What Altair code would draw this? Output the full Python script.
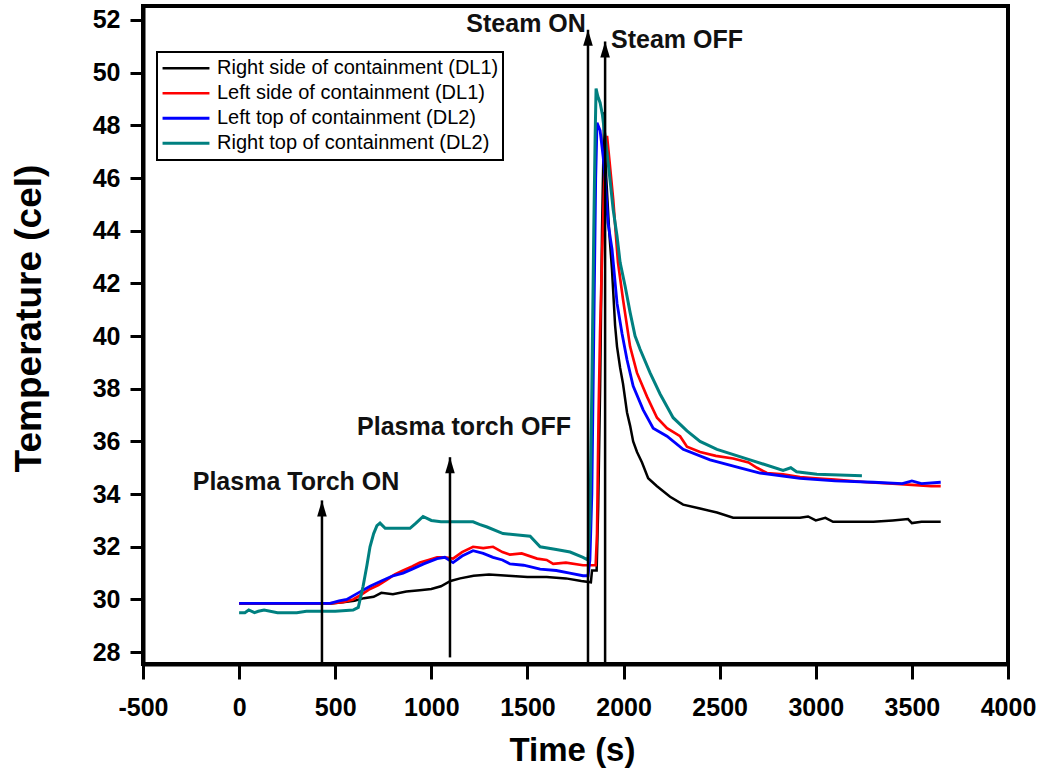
import altair as alt
import pandas as pd

# ---------------- data ----------------
series_names = [
    "Right side of containment (DL1)",
    "Left side of containment (DL1)",
    "Left top of containment (DL2)",
    "Right top of containment (DL2)",
]
series_colors = ["#000000", "#ff0000", "#0000ff", "#008080"]
series_widths = [2.5, 3, 2, 3]

black_t = [0, 100, 200, 300, 400, 480, 550, 600, 650, 700, 740, 800, 870, 940, 1000, 1050, 1100,
           1150, 1220, 1300, 1400, 1500, 1600, 1700, 1780, 1830, 1836, 1860, 1868, 1878, 1888, 1899,
           1910, 1925, 1940, 1956, 1966, 1982, 1997, 2018, 2034, 2050, 2070, 2096, 2128, 2174, 2242,
           2310, 2398, 2486, 2570, 2700, 2800, 2918, 2960, 3000, 3050, 3090, 3200, 3300, 3400, 3480,
           3500, 3550, 3650]
black_v = [29.85, 29.85, 29.85, 29.85, 29.85, 29.85, 29.9, 29.95, 30.05, 30.1, 30.25, 30.2, 30.3,
           30.35, 30.4, 30.5, 30.7, 30.8, 30.9, 30.95, 30.9, 30.85, 30.85, 30.8, 30.7, 30.65, 31.1,
           31.1, 33.5, 38.0, 44.0, 48.5, 46.0, 44.0, 42.5, 40.4, 39.6, 38.8, 38.2, 37.1, 36.6, 36.0,
           35.6, 35.2, 34.6, 34.3, 33.9, 33.6, 33.45, 33.3, 33.1, 33.1, 33.1, 33.1, 33.15, 33.0, 33.1,
           32.95, 32.95, 32.95, 33.0, 33.05, 32.9, 32.95, 32.95]

red_t = [0, 100, 200, 300, 400, 473, 540, 593, 640, 681, 725, 770, 810, 853, 900, 941, 985, 1030,
         1070, 1113, 1160, 1217, 1270, 1321, 1370, 1409, 1470, 1550, 1600, 1634, 1700, 1789, 1855,
         1862, 1870, 1878, 1888, 1898, 1907, 1914, 1930, 1946, 1971, 1997, 2034, 2070, 2122, 2174,
         2226, 2294, 2330, 2398, 2480, 2570, 2650, 2694, 2746, 2830, 2918, 3000, 3100, 3267, 3400,
         3500, 3600, 3650]
red_v = [29.85, 29.85, 29.85, 29.85, 29.85, 29.85, 29.9, 30.0, 30.2, 30.4, 30.55, 30.75, 30.95,
         31.1, 31.25, 31.4, 31.5, 31.6, 31.6, 31.55, 31.8, 32.0, 31.95, 32.0, 31.8, 31.7, 31.75,
         31.55, 31.5, 31.35, 31.4, 31.3, 31.3, 32.5, 37.0, 40.2, 43.0, 45.5, 47.2, 47.6, 46.4, 45.2,
         42.8, 41.4, 39.6, 38.6, 37.7, 36.9, 36.5, 36.2, 35.8, 35.6, 35.45, 35.35, 35.2, 35.0, 34.8,
         34.75, 34.65, 34.6, 34.55, 34.45, 34.4, 34.35, 34.3, 34.3]

blue_t = [0, 100, 200, 300, 400, 473, 520, 560, 620, 681, 740, 800, 853, 900, 960, 1030, 1070,
          1113, 1160, 1217, 1270, 1321, 1370, 1409, 1480, 1566, 1650, 1720, 1789, 1815, 1825, 1835,
          1845, 1855, 1862, 1878, 1894, 1904, 1919, 1940, 1966, 1992, 2018, 2050, 2102, 2154, 2226,
          2310, 2450, 2606, 2710, 2918, 3100, 3300, 3450, 3500, 3550, 3650]
blue_v = [29.85, 29.85, 29.85, 29.85, 29.85, 29.85, 29.95, 30.0, 30.25, 30.5, 30.7, 30.9, 31.0,
          31.15, 31.35, 31.55, 31.6, 31.4, 31.65, 31.85, 31.75, 31.6, 31.5, 31.35, 31.3, 31.15,
          31.1, 31.0, 30.9, 30.9, 31.5, 34.0, 40.0, 46.0, 48.1, 47.8, 46.8, 46.0, 44.3, 43.3, 41.25,
          40.1, 39.1, 38.1, 37.2, 36.5, 36.2, 35.7, 35.3, 35.0, 34.8, 34.6, 34.5, 34.45, 34.4, 34.5,
          34.4, 34.45]

teal_t = [0, 30, 50, 80, 100, 130, 200, 300, 350, 400, 500, 593, 620, 645, 665, 681, 700, 717,
          733, 760, 800, 889, 920, 957, 1000, 1050, 1097, 1150, 1217, 1250, 1290, 1373, 1450, 1514,
          1566, 1650, 1722, 1789, 1815, 1825, 1835, 1845, 1852, 1857, 1866, 1878, 1890, 1914, 1930,
          1946, 1966, 1982, 2008, 2034, 2060, 2086, 2138, 2190, 2258, 2330, 2398, 2486, 2658, 2830,
          2870, 2900, 3006, 3240]
teal_v = [29.5, 29.5, 29.6, 29.5, 29.55, 29.6, 29.5, 29.5, 29.55, 29.55, 29.55, 29.6, 29.7, 30.5,
          31.3, 32.0, 32.5, 32.8, 32.9, 32.7, 32.7, 32.7, 32.9, 33.15, 33.0, 32.95, 32.95, 32.95,
          32.95, 32.85, 32.75, 32.5, 32.45, 32.4, 32.0, 31.9, 31.8, 31.6, 31.5, 33.0, 38.0, 44.0,
          47.5, 49.4, 49.1, 48.86, 48.4, 46.96, 45.9, 44.8, 43.8, 42.8, 41.9, 40.9, 40.0, 39.5, 38.6,
          37.8, 36.9, 36.4, 36.0, 35.7, 35.3, 34.9, 35.0, 34.85, 34.75, 34.7]

# annotation arrows (time, bottom temperature, tip temperature)
arrow_t = [431, 1097, 1815, 1904]
arrow_bottom = [27.55, 27.8, 27.55, 27.55]
arrow_top = [33.76, 35.4, 51.63, 51.18]

# annotation labels
label_text = ["Plasma Torch ON", "Plasma torch OFF", "Steam ON", "Steam OFF"]
label_t = [296, 1170, 1493, 2278]
label_v = [34.14, 36.24, 51.56, 50.95]

x_ticks = [-500, 0, 500, 1000, 1500, 2000, 2500, 3000, 3500, 4000]
y_ticks = [28, 30, 32, 34, 36, 38, 40, 42, 44, 46, 48, 50, 52]

# ---------------- tables ----------------
rows = []
for name, ts, vs in zip(series_names, [black_t, red_t, blue_t, teal_t],
                        [black_v, red_v, blue_v, teal_v]):
    for i, (t, v) in enumerate(zip(ts, vs)):
        rows.append({"series": name, "t": t, "temp": v, "i": i})
lines_df = pd.DataFrame(rows)
arrows_df = pd.DataFrame({"t": arrow_t, "y0": arrow_bottom, "y1": arrow_top})
labels_df = pd.DataFrame({"t": label_t, "temp": label_v, "text": label_text})

FONT = "Liberation Sans"
xscale = alt.Scale(domain=[-500, 4000], nice=False, zero=False)
yscale = alt.Scale(domain=[27.55, 52.53], nice=False, zero=False)

x_axis = alt.Axis(values=x_ticks, title="Time (s)", labelExpr="'' + datum.value",
                  tickSize=15, labelPadding=16, labelFlush=False, labelOverlap=False,
                  titleX=429, titleY=86, titleBaseline="middle", titleAlign="center")
y_axis = alt.Axis(values=y_ticks, title="Temperature (cel)", tickSize=13, labelPadding=10,
                  titleX=-114, titleY=312, titleAngle=-90, titleAlign="center",
                  titleBaseline="middle", labelOverlap=False, titleFontSize=37)

lines = alt.Chart(lines_df).mark_line().encode(
    x=alt.X("t:Q", scale=xscale, axis=x_axis),
    y=alt.Y("temp:Q", scale=yscale, axis=y_axis),
    color=alt.Color("series:N", scale=alt.Scale(domain=series_names, range=series_colors),
                    legend=alt.Legend(orient="none", legendX=14, legendY=46, title=None,
                                      symbolType="stroke", symbolSize=2200, symbolStrokeWidth=3,
                                      labelFontSize=20, labelFont=FONT, labelColor="black",
                                      labelOffset=6, labelLimit=500, clipHeight=24.5,
                                      fillColor="white", padding=4)),
    strokeWidth=alt.StrokeWidth("series:N", scale=alt.Scale(domain=series_names, range=series_widths),
                                legend=None),
    order="i:Q",
)

rules = alt.Chart(arrows_df).mark_rule(color="black", strokeWidth=2.5).encode(
    x=alt.X("t:Q", scale=xscale),
    y=alt.Y("y0:Q", scale=yscale),
    y2="y1:Q",
)
heads = alt.Chart(arrows_df).mark_point(shape="M0,0L0.6,2L-0.6,2Z", size=256, filled=True,
                                        color="black", opacity=1, strokeWidth=0).encode(
    x=alt.X("t:Q", scale=xscale),
    y=alt.Y("y1:Q", scale=yscale),
)
texts = alt.Chart(labels_df).mark_text(font=FONT, fontSize=25, fontWeight="bold", color="#111111",
                                       align="center", baseline="alphabetic").encode(
    x=alt.X("t:Q", scale=xscale),
    y=alt.Y("temp:Q", scale=yscale),
    text="text:N",
)

chart = alt.layer(lines, rules, heads, texts).properties(
    width=865, height=658,
    autosize=alt.AutoSizeParams(type="none"),
    padding={"left": 143, "top": 6, "right": 29, "bottom": 105},
    background="white",
).configure_view(
    stroke="black", strokeWidth=4,
).configure_axis(
    grid=False, domainColor="black", domainWidth=4, tickColor="black", tickWidth=3,
    labelFont=FONT, labelFontSize=25, labelFontWeight="bold", labelColor="black",
    titleFont=FONT, titleFontSize=33, titleFontWeight="bold", titleColor="black",
).configure_legend(
    strokeColor="black", strokeWidth=2, rowPadding=0,
)

chart.save("out.html", embed_options={"renderer": "svg", "actions": False})
